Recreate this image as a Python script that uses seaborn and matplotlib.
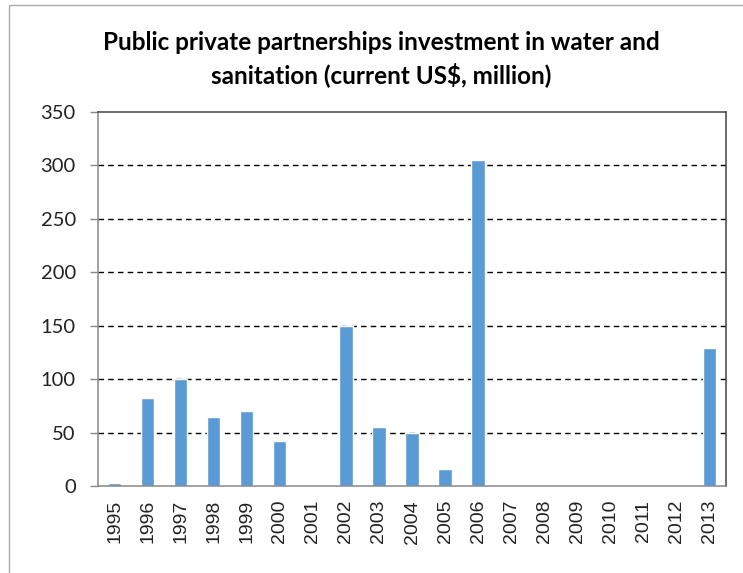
import matplotlib
matplotlib.use("Agg")
import matplotlib.pyplot as plt
from matplotlib.patches import Rectangle
import seaborn as sns
import pandas as pd

years = ["1995", "1996", "1997", "1998", "1999", "2000", "2001", "2002", "2003", "2004",
         "2005", "2006", "2007", "2008", "2009", "2010", "2011", "2012", "2013"]
investment = [3, 82, 100, 65, 70, 42, 0, 150, 55, 50, 16, 305, 0, 0, 0, 0, 0, 0, 129]
y_ticks = [0, 50, 100, 150, 200, 250, 300, 350]
title = "Public private partnerships investment in water and\nsanitation (current US$, million)"

df = pd.DataFrame({"year": years, "value": investment})

sns.set_theme(style="white")
plt.rcParams["font.family"] = ["Lato", "DejaVu Sans"]

fig = plt.figure(figsize=(7.43, 5.73), dpi=100)
ax = fig.add_axes([98 / 743, 1 - 486 / 573, (726 - 98) / 743, (486 - 112) / 573])

sns.barplot(data=df, x="year", y="value", order=years, color="#5B9BD5",
            saturation=1, width=0.4, ax=ax)

ax.set_xlim(-0.5, len(years) - 0.5)
ax.set_ylim(0, 350)
ax.set_yticks(y_ticks)
ax.set_yticklabels([str(v) for v in y_ticks], fontsize=14.5, color="#222222")
ax.set_xlabel("")
ax.set_ylabel("")

# category labels rotated, tick marks sit between categories
ax.set_xticks(range(len(years)))
ax.set_xticklabels(years, rotation=90, fontsize=14, color="#222222",
                   family=["Liberation Sans", "DejaVu Sans"])
ax.set_xticks([i - 0.5 for i in range(len(years) + 1)], minor=True)
ax.tick_params(axis="x", which="major", length=0, pad=10)
ax.tick_params(axis="x", which="minor", length=6, width=1, color="#888888", direction="out")
ax.tick_params(axis="y", length=6, width=1, color="#888888", direction="out", pad=10, left=True)

for v in y_ticks[1:-1]:
    ax.axhline(v, color="black", linestyle=(0, (4, 3)), linewidth=1.0, zorder=0)

ax.spines["left"].set_color("#888888")
ax.spines["bottom"].set_color("#888888")
ax.spines["top"].set_color("#444444")
ax.spines["right"].set_color("#444444")
for s in ax.spines.values():
    s.set_linewidth(1.1)
    s.set_visible(True)

fig.text(381 / 743, 1 - 59 / 573, title, ha="center", va="center", fontsize=17.5,
         fontweight="bold", linespacing=1.35, color="black")

# chart frame
fig.patches.append(Rectangle((9 / 743, -0.1), 1.2, 1 - 5 / 573 + 0.1, transform=fig.transFigure,
                             fill=False, edgecolor="#aaaaaa", linewidth=1.0))

fig.savefig("out.png", dpi=100, facecolor="white")
